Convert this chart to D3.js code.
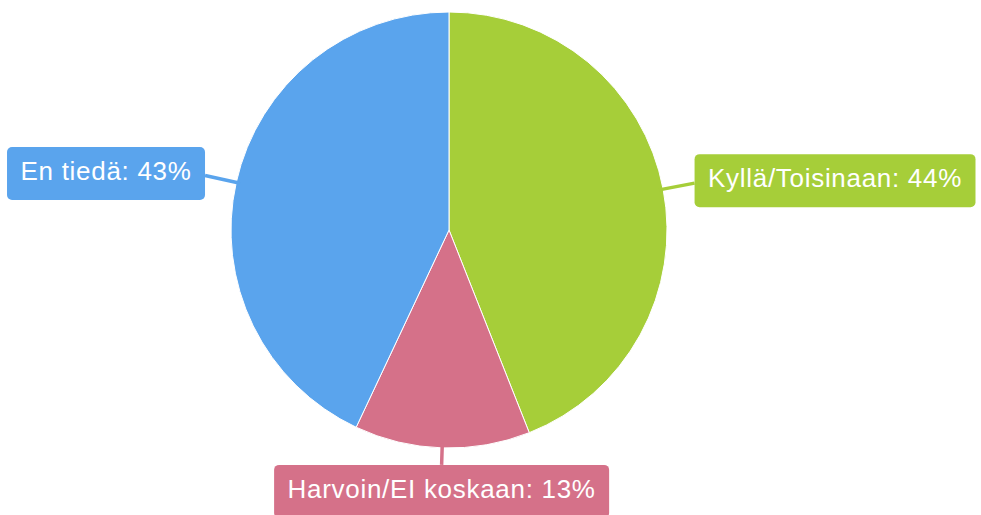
<!DOCTYPE html>
<html>
<head>
<meta charset="utf-8">
<script src="https://cdn.jsdelivr.net/npm/d3@7"></script>
<style>
  html, body { margin: 0; padding: 0; background: #ffffff; }
  svg { display: block; }
</style>
</head>
<body>
<svg id="chart" width="981" height="515"></svg>
<script>
// Survey answers and their shares (%)
const categories = ["Kyllä/Toisinaan", "Harvoin/EI koskaan", "En tiedä"];
const values = [44, 13, 43];
const colors = ["#a6ce39", "#d57189", "#5aa4ed"];

const width = 981, height = 515;
const cx = 449, cy = 230, radius = 218;

const svg = d3.select("#chart");
const g = svg.append("g").attr("transform", `translate(${cx},${cy})`);

const data = categories.map((c, i) => ({ name: c, value: values[i], color: colors[i] }));

const pie = d3.pie().value(d => d.value).sort(null);
const arc = d3.arc().innerRadius(0).outerRadius(radius);
const arcs = pie(data);

// Slices
g.selectAll("path.slice")
  .data(arcs)
  .join("path")
  .attr("class", "slice")
  .attr("d", arc)
  .attr("fill", d => d.data.color)
  .attr("stroke", "#ffffff")
  .attr("stroke-width", 1);

// Labels with connector lines
const boxH = 53, padX = 13.5, fontSize = 26;

arcs.forEach(d => {
  const mid = (d.startAngle + d.endAngle) / 2;
  const sx = Math.sin(mid), sy = -Math.cos(mid);
  const below = Math.abs(sx) < 0.5;
  const gap = below ? 17 : 32;
  const ax = sx * (radius + gap), ay = sy * (radius + gap);

  const lg = g.append("g");
  lg.append("line")
    .attr("x1", sx * (radius - 4)).attr("y1", sy * (radius - 4))
    .attr("x2", ax).attr("y2", ay)
    .attr("stroke", d.data.color)
    .attr("stroke-width", 3.5);

  const rect = lg.append("rect")
    .attr("rx", 5).attr("ry", 5)
    .attr("fill", d.data.color);

  const text = lg.append("text")
    .attr("font-family", "'Liberation Sans', Arial, sans-serif")
    .attr("font-size", fontSize)
    .attr("letter-spacing", 0.7)
    .attr("fill", "#ffffff")
    .text(`${d.data.name}: ${d.data.value}%`);

  const tw = text.node().getComputedTextLength();
  const bw = tw + padX * 2;
  let bx, by;
  if (below) {
    bx = ax - bw / 2; by = ay;
  } else if (sx > 0) {
    bx = ax; by = ay - boxH / 2 - 2.5;
  } else {
    bx = ax - bw; by = ay - boxH / 2 - 2;
  }
  rect.attr("x", bx).attr("y", by).attr("width", bw).attr("height", boxH);
  text.attr("x", bx + padX).attr("y", by + boxH / 2 + 6.5);
});
</script>
</body>
</html>
